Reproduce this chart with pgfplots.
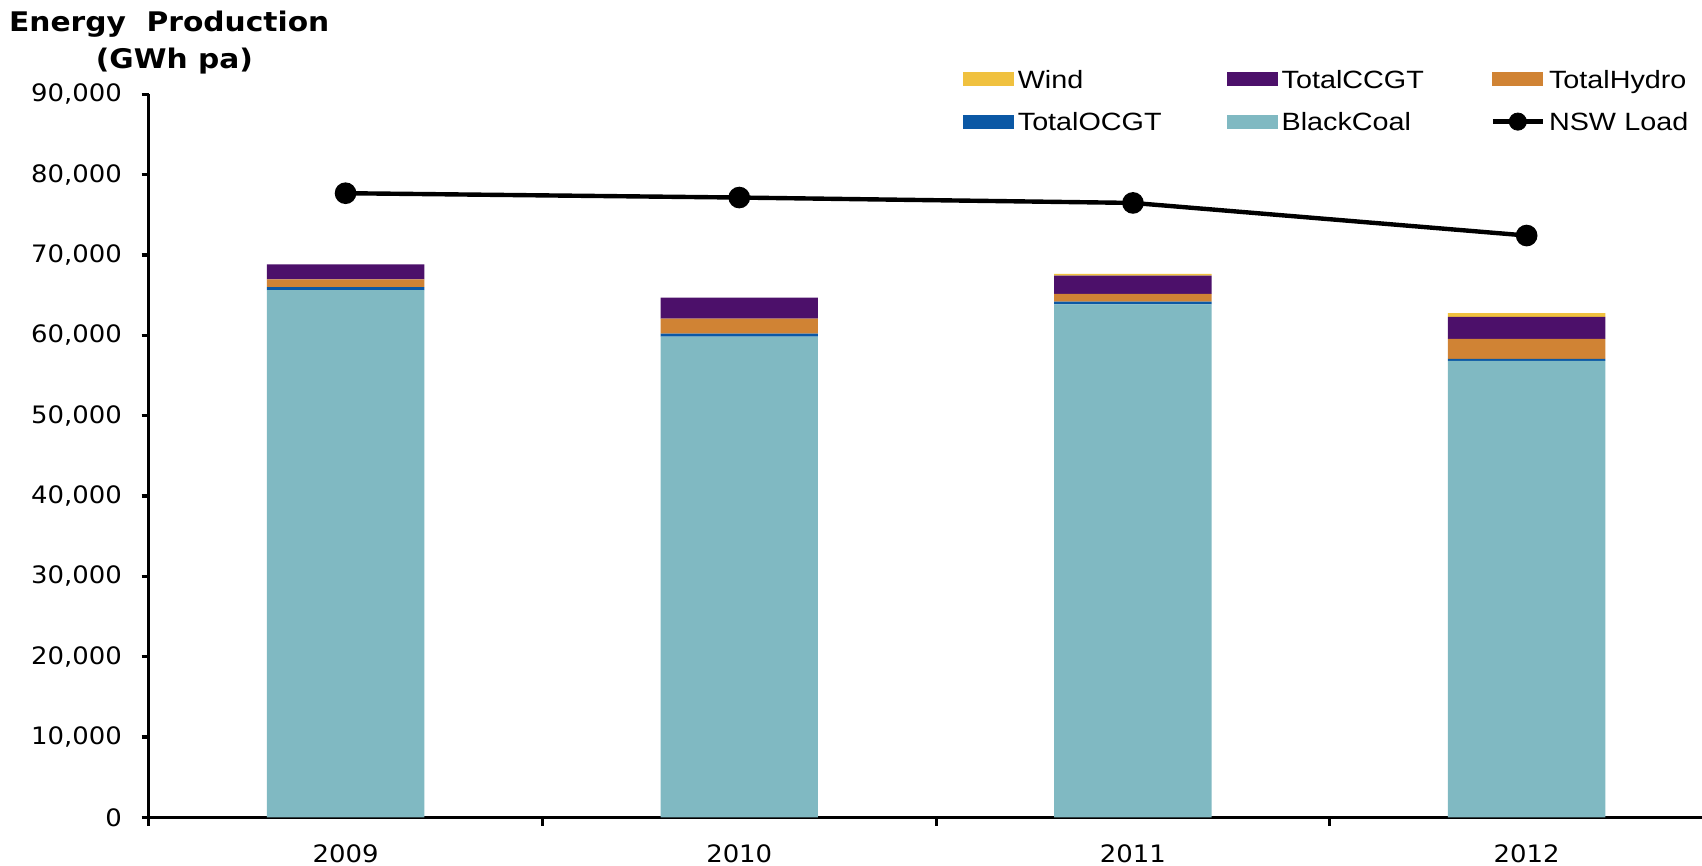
\documentclass[border=0pt]{standalone}
\usepackage{pgfplots}
\usepackage{pgfplotstable}
\pgfplotsset{compat=1.18}
\usepackage{fontspec}
\setmainfont{Liberation Sans}
\newfontfamily\tickfont[FakeStretch=1.08]{DejaVu Sans}
\newfontfamily\legfont[FakeStretch=1.15]{Liberation Sans}
\newfontfamily\titlefont[FakeStretch=1.1]{DejaVu Sans}

\definecolor{wind}{RGB}{240,193,63}
\definecolor{ccgt}{RGB}{76,16,106}
\definecolor{hydro}{RGB}{208,131,52}
\definecolor{ocgt}{RGB}{11,88,165}
\definecolor{coal}{RGB}{128,185,194}

\pgfplotstableread{
x coal  ocgt hydro ccgt wind load
0 65650 370  960   1860 0    77700
1 59840 375  1865  2615 0    77160
2 63870 325  960   2280 210  76490
3 56820 250  2490  2740 460  72430
}\energy

\newcommand\swatch[1]{\addlegendimage{legend image code/.code={\fill[#1] (0pt,-3.25pt) rectangle (25pt,3.25pt);}}}

\pgfplotsset{
  base/.style={
    at={(0,0)}, anchor=south west,
    scale only axis, width=787.4pt, height=361.5pt,
    xmin=-0.5, xmax=3.5, ymin=0, ymax=90000,
  }
}

\begin{document}
\begin{tikzpicture}
\begin{axis}[
  base,
  ybar stacked, bar width=0.4,
  axis x line*=bottom, axis y line*=left,
  axis line style={-, line width=1.6pt},
  tick align=outside,
  major tick length=3.5pt,
  tick style={line width=1.6pt, black},
  ytick={0,10000,...,90000},
  scaled y ticks=false,
  /pgf/number format/.cd, 1000 sep={,}, assume math mode=true, /pgfplots/.cd,
  xtick={0,1,2,3},
  xticklabels={2009,2010,2011,2012},
  xtick style={draw=none},
  extra x ticks={-0.5,0.5,1.5,2.5,3.5},
  extra x tick labels={},
  extra x tick style={xtick style={draw=black, line width=1.6pt}, major tick length=4.3pt},
  tick label style={font=\tickfont\fontsize{12}{14}\selectfont},
  yticklabel style={xshift=-6.4pt},
  xticklabel style={yshift=-6.5pt},
]
\addplot[fill=coal, draw=none] table[x=x, y=coal] {\energy};
\addplot[fill=ocgt, draw=none] table[x=x, y=ocgt] {\energy};
\addplot[fill=hydro, draw=none] table[x=x, y=hydro] {\energy};
\addplot[fill=ccgt, draw=none] table[x=x, y=ccgt] {\energy};
\addplot[fill=wind, draw=none] table[x=x, y=wind] {\energy};
\end{axis}

\begin{axis}[
  base,
  hide axis,
  legend columns=3,
  legend cell align=left,
  legend style={
    at={(0.5171,1.0448)}, anchor=north west,
    draw=none, fill=none, inner sep=0pt, outer sep=0pt,
    font=\legfont\fontsize{12.5}{14}\selectfont,
    row sep=4.3pt,
    nodes={inner sep=1.5pt, text height=11.5pt, text depth=2.5pt, text width=103pt, align=left},
    /tikz/every odd column/.append style={column sep=0.5pt},
    /tikz/every even column/.append style={column sep=0pt},
  },
]
\addplot[black, line width=2.2pt, mark=*, mark size=4.3pt, forget plot]
  table[x=x, y=load] {\energy};
\swatch{wind}\addlegendentry{Wind}
\swatch{ccgt}\addlegendentry{TotalCCGT}
\swatch{hydro}\addlegendentry{TotalHydro}
\swatch{ocgt}\addlegendentry{TotalOCGT}
\swatch{coal}\addlegendentry{BlackCoal}
\addlegendimage{legend image code/.code={\draw[line width=2.2pt] (0pt,0pt) -- (25pt,0pt); \fill (12.5pt,0pt) circle (4.3pt);}}
\addlegendentry{NSW Load}
\end{axis}

\node[anchor=base west, inner sep=0pt, font=\titlefont\bfseries\fontsize{13.5}{16}\selectfont]
  at (-70pt,392.95pt) {Energy\ \ Production};
\node[anchor=base west, inner sep=0pt, font=\titlefont\bfseries\fontsize{13.5}{16}\selectfont]
  at (-26.6pt,374.5pt) {(GWh pa)};

\pgfresetboundingbox
\useasboundingbox (-74.35pt,-24.3pt) rectangle (776.65pt,408.7pt);
\end{tikzpicture}
\end{document}
